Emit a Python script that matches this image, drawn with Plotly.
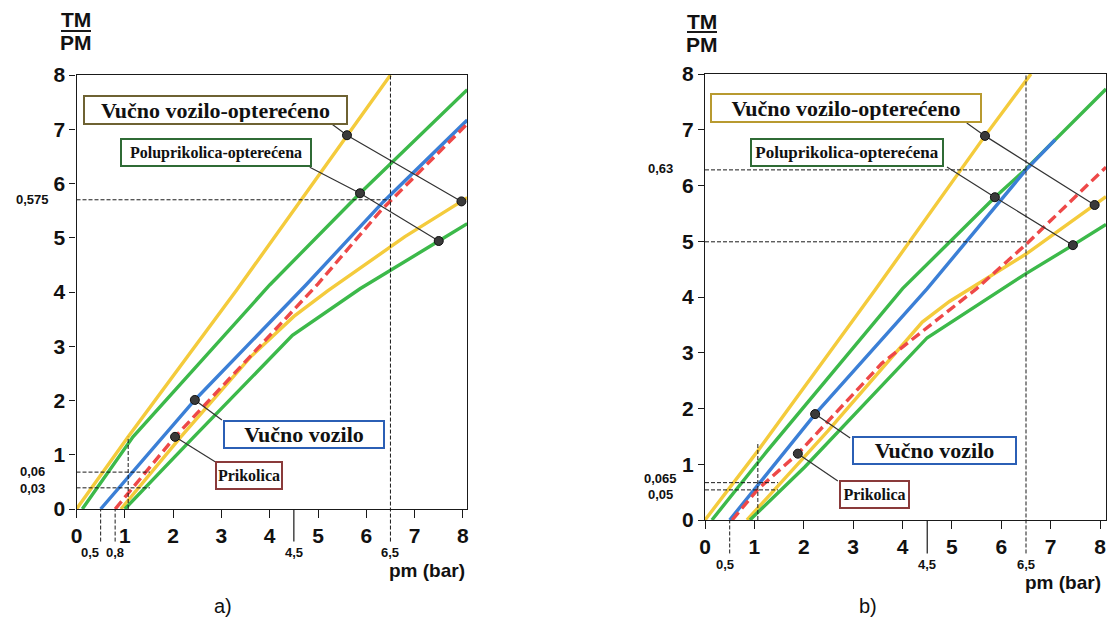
import plotly.graph_objects as go

# ---------------- data: panel a) ----------------
a_yellow_up_x = [0, 1.07, 3.32, 5.6, 6.5]
a_yellow_up_y = [0, 1.33, 4.04, 6.89, 8.0]
a_green_up_x = [0.12, 1.17, 4.0, 5.87, 8.09]
a_green_up_y = [0, 1.33, 4.13, 5.82, 7.73]
a_blue_x = [0.5, 2.45, 4.75, 6.35, 8.09]
a_blue_y = [0, 2.01, 4.13, 5.66, 7.17]
a_red_x = [0.8, 2.04, 5.0, 6.3, 8.09]
a_red_y = [0, 1.33, 4.15, 5.5, 7.1]
a_yellow_lo_x = [0.92, 2.16, 3.6, 4.5, 5.2, 6.8, 7.97, 8.09]
a_yellow_lo_y = [0, 1.33, 2.8, 3.55, 4.02, 5.02, 5.67, 5.74]
a_green_lo_x = [1.0, 2.43, 4.47, 5.87, 7.5, 8.09]
a_green_lo_y = [0, 1.33, 3.2, 4.06, 4.94, 5.26]

a_ref_h = [5.7, 0.68, 0.39]          # horizontal reference levels
a_ref_h_end = [6.5, 1.52, 1.52]
a_ref_h_labels = ["0,575", "0,06", "0,03"]
a_ref_h_label_y = [5.7, 0.69, 0.37]
a_ref_v_short = (1.07, 1.33)
a_mark_x = [0.5, 0.8, 4.5, 6.5]
a_mark_labels = ["0,5", "0,8", "4,5", "6,5"]
a_mark_label_x = [0.28, 0.8, 4.5, 6.5]

# leader lines (box corner -> point -> point)
a_vvo_lead_x = [5.25, 5.6, 7.97]
a_vvo_lead_y = [7.12, 6.89, 5.67]
a_po_lead_x = [4.83, 5.87, 7.5]
a_po_lead_y = [6.3, 5.82, 4.94]
a_vv_lead_x = [2.45, 3.01]
a_vv_lead_y = [2.01, 1.64]
a_pr_lead_x = [2.04, 2.87]
a_pr_lead_y = [1.33, 0.87]

# ---------------- data: panel b) ----------------
b_yellow_up_x = [0, 1.07, 3.44, 5.67, 6.6]
b_yellow_up_y = [0, 1.24, 4.12, 6.89, 8.0]
b_green_up_x = [0.14, 1.26, 4.0, 5.87, 6.48, 8.12]
b_green_up_y = [0, 1.24, 4.15, 5.79, 6.28, 7.73]
b_blue_x = [0.5, 2.23, 4.5, 6.5, 7.09]
b_blue_y = [0, 1.9, 4.15, 6.28, 6.82]
b_red_x = [0.55, 1.07, 1.88, 3.58, 5.5, 6.52, 8.12]
b_red_y = [0, 0.55, 1.19, 2.81, 4.15, 4.96, 6.33]
b_yellow_lo_x = [0.85, 2.49, 4.4, 4.95, 6.5, 7.89, 8.12]
b_yellow_lo_y = [0, 1.6, 3.55, 3.92, 4.77, 5.65, 5.8]
b_green_lo_x = [0.91, 2.02, 4.5, 6.5, 7.45, 8.12]
b_green_lo_y = [0, 0.95, 3.27, 4.42, 4.93, 5.3]

b_ref_h = [6.28, 4.99, 0.67, 0.54]
b_ref_h_end = [6.5, 6.5, 1.48, 1.48]
b_ref_h_labels = ["0,63", "0,065", "0,05"]
b_ref_h_label_y = [6.3, 0.74, 0.46]
b_ref_v_short = (1.07, 1.4)
b_mark_x = [0.5, 4.5, 6.5]
b_mark_labels = ["0,5", "4,5", "6,5"]
b_mark_label_x = [0.4, 4.5, 6.5]

b_vvo_lead_x = [5.3, 5.67, 7.89]
b_vvo_lead_y = [7.12, 6.89, 5.65]
b_po_lead_x = [4.9, 5.87, 7.45]
b_po_lead_y = [6.33, 5.79, 4.93]
b_vv_lead_x = [2.23, 2.94]
b_vv_lead_y = [1.9, 1.47]
b_pr_lead_x = [1.88, 2.69]
b_pr_lead_y = [1.19, 0.7]

x_ticks = [0, 1, 2, 3, 4, 5, 6, 7, 8]
y_ticks = [0, 1, 2, 3, 4, 5, 6, 7, 8]

YELLOW = "#f4cb3c"
GREEN = "#3cb94a"
BLUE = "#3b7fd6"
RED = "#ee4848"
INK = "#1a1a1a"

SANS = "Liberation Sans, Arial, sans-serif"
NARROW = "Liberation Sans Narrow, Liberation Sans, Arial, sans-serif"
SERIF = "Liberation Serif, Times New Roman, serif"

XR = {"x": (0, 8.085), "x2": (0, 8.12)}
YMAX = 8.0
YR = {"y": (0, YMAX), "y2": (0, YMAX)}

fig = go.Figure()


def add_line(x, y, color, xa, ya, dash=None, width=3.4):
    fig.add_trace(go.Scatter(x=x, y=y, mode="lines",
                             line=dict(color=color, width=width, dash=dash),
                             xaxis=xa, yaxis=ya, showlegend=False, hoverinfo="skip"))


def add_leader(x, y, xa, ya, dots):
    fig.add_trace(go.Scatter(x=x, y=y, mode="lines",
                             line=dict(color="#333333", width=1.2),
                             xaxis=xa, yaxis=ya, showlegend=False, hoverinfo="skip"))
    fig.add_trace(go.Scatter(x=[x[i] for i in dots], y=[y[i] for i in dots], mode="markers",
                             marker=dict(color="#3a3a3a", size=9, line=dict(color="#111", width=1)),
                             xaxis=xa, yaxis=ya, showlegend=False, hoverinfo="skip"))


for xa, ya, d in [("x", "y", dict(yu=(a_yellow_up_x, a_yellow_up_y), gu=(a_green_up_x, a_green_up_y),
                                  yl=(a_yellow_lo_x, a_yellow_lo_y), gl=(a_green_lo_x, a_green_lo_y),
                                  b=(a_blue_x, a_blue_y), r=(a_red_x, a_red_y))),
                  ("x2", "y2", dict(yu=(b_yellow_up_x, b_yellow_up_y), gu=(b_green_up_x, b_green_up_y),
                                    yl=(b_yellow_lo_x, b_yellow_lo_y), gl=(b_green_lo_x, b_green_lo_y),
                                    b=(b_blue_x, b_blue_y), r=(b_red_x, b_red_y)))]:
    add_line(*d["yu"], YELLOW, xa, ya)
    add_line(*d["yl"], YELLOW, xa, ya)
    add_line(*d["gu"], GREEN, xa, ya)
    add_line(*d["gl"], GREEN, xa, ya)
    add_line(*d["b"], BLUE, xa, ya)
    add_line(*d["r"], RED, xa, ya, dash="10px,5px")

add_leader(a_vvo_lead_x, a_vvo_lead_y, "x", "y", [1, 2])
add_leader(a_po_lead_x, a_po_lead_y, "x", "y", [1, 2])
add_leader(a_vv_lead_x, a_vv_lead_y, "x", "y", [0])
add_leader(a_pr_lead_x, a_pr_lead_y, "x", "y", [0])
add_leader(b_vvo_lead_x, b_vvo_lead_y, "x2", "y2", [1, 2])
add_leader(b_po_lead_x, b_po_lead_y, "x2", "y2", [1, 2])
add_leader(b_vv_lead_x, b_vv_lead_y, "x2", "y2", [0])
add_leader(b_pr_lead_x, b_pr_lead_y, "x2", "y2", [0])

shapes = []
DASH = dict(color=INK, width=1, dash="4px,2px")
BELOW = -0.6  # data units below the axis reached by the marker lines


def ref_shapes(xa, ya, hs, hends, vshort, marks):
    for h, e in zip(hs, hends):
        shapes.append(dict(type="line", xref=xa, yref=ya, x0=0, x1=e, y0=h, y1=h, line=DASH))
    shapes.append(dict(type="line", xref=xa, yref=ya, x0=vshort[0], x1=vshort[0], y0=0, y1=vshort[1], line=DASH))
    for m in marks:
        top = 1 if m == 6.5 else 0
        style = dict(color=INK, width=1.2) if m == 4.5 else DASH
        shapes.append(dict(type="line", xref=xa, yref=ya + " domain", x0=m, x1=m,
                           y0=BELOW / YMAX, y1=top, line=style))


ref_shapes("x", "y", a_ref_h, a_ref_h_end, a_ref_v_short, a_mark_x)
ref_shapes("x2", "y2", b_ref_h, b_ref_h_end, b_ref_v_short, b_mark_x)

# TM / PM fraction bars
shapes.append(dict(type="line", xref="paper", yref="paper", x0=61 / 1110, x1=91 / 1110,
                   y0=1 - 31 / 633, y1=1 - 31 / 633, line=dict(color=INK, width=2)))
shapes.append(dict(type="line", xref="paper", yref="paper", x0=687 / 1110, x1=717 / 1110,
                   y0=1 - 32 / 633, y1=1 - 32 / 633, line=dict(color=INK, width=2)))

ann = []


def box(xa, ya, x, y, text, size, w, h, border):
    ann.append(dict(xref=xa, yref=ya, x=x, y=y, text="<b>" + text + "</b>", showarrow=False,
                    xanchor="center", yanchor="middle",
                    font=dict(family=SERIF, size=size, color="#111"),
                    bgcolor="white", bordercolor=border, borderwidth=2, borderpad=1,
                    width=w - 6, height=h - 6, align="center", valign="middle"))


box("x", "y", 2.88, 7.35, "Vučno vozilo-opterećeno", 22, 265, 30, "#6e6233")
box("x", "y", 2.89, 6.57, "Poluprikolica-opterećena", 16, 192, 29, "#2f6b35")
box("x", "y", 4.71, 1.38, "Vučno vozilo", 22, 162, 29, "#2b5fb5")
box("x", "y", 3.57, 0.61, "Prikolica", 16, 68, 29, "#8a3a3a")
box("x2", "y2", 2.85, 7.39, "Vučno vozilo-opterećeno", 22, 272, 30, "#b89a30")
box("x2", "y2", 2.87, 6.59, "Poluprikolica-opterećena", 17, 194, 29, "#2f6b35")
box("x2", "y2", 4.65, 1.24, "Vučno vozilo", 22, 165, 29, "#2b5fb5")
box("x2", "y2", 3.43, 0.46, "Prikolica", 16, 71, 29, "#8a3a3a")


def txt_paper(x, y, text, size, family=SANS, bold=True):
    ann.append(dict(xref="paper", yref="paper", x=x, y=y, xanchor="center", yanchor="middle",
                    text=("<b>%s</b>" % text) if bold else text, showarrow=False,
                    font=dict(family=family, size=size, color="#111")))


def txt_data(xa, ya, x, y, text, size, family=NARROW, bold=True):
    # position given in data units, placed through the axis domain so it may sit outside the range
    x0, x1 = XR[xa]
    y0, y1 = YR[ya]
    ann.append(dict(xref=xa + " domain", yref=ya + " domain",
                    x=(x - x0) / (x1 - x0), y=(y - y0) / (y1 - y0),
                    xanchor="center", yanchor="middle",
                    text=("<b>%s</b>" % text) if bold else text, showarrow=False,
                    font=dict(family=family, size=size, color="#111")))


for lab, yy in zip(a_ref_h_labels, a_ref_h_label_y):
    txt_data("x", "y", -0.92, yy, lab, 13)
for lab, yy in zip(b_ref_h_labels, b_ref_h_label_y):
    txt_data("x2", "y2", -0.9, yy, lab, 13)
for lx, lab in zip(a_mark_label_x, a_mark_labels):
    txt_data("x", "y", lx, -0.8, lab, 13)
for lx, lab in zip(b_mark_label_x, b_mark_labels):
    txt_data("x2", "y2", lx, -0.8, lab, 13)
txt_data("x", "y", 7.26, -1.14, "pm (bar)", 19, family=SANS)
txt_data("x2", "y2", 7.25, -1.12, "pm (bar)", 19, family=SANS)

# axis titles TM / PM
txt_paper(76 / 1110, 1 - 20 / 633, "TM", 21)
txt_paper(76 / 1110, 1 - 43 / 633, "PM", 21)
txt_paper(702 / 1110, 1 - 21 / 633, "TM", 21)
txt_paper(702 / 1110, 1 - 44 / 633, "PM", 21)

# panel captions
txt_paper(223 / 1110, 1 - 606 / 633, "a)", 20, bold=False)
txt_paper(868 / 1110, 1 - 606 / 633, "b)", 20, bold=False)

tickfont = dict(family=SANS, size=21, color="#111", weight="bold")
common_x = dict(tickvals=x_ticks, ticktext=[str(v) for v in x_ticks], ticks="outside", ticklen=8,
                tickwidth=1.3, tickcolor=INK, showline=True, linecolor=INK, linewidth=1.3,
                mirror=True, showgrid=False, zeroline=False, tickfont=tickfont, automargin=False,
                ticklabeloverflow="allow")
common_y = dict(tickvals=y_ticks, ticktext=[str(v) for v in y_ticks], ticks="outside", ticklen=6,
                tickwidth=1.3, tickcolor=INK, showline=True, linecolor=INK, linewidth=1.3,
                mirror=True, showgrid=False, zeroline=False, tickfont=tickfont, automargin=False,
                range=[0, YMAX])

fig.update_layout(
    width=1110, height=633,
    margin=dict(l=0, r=0, t=0, b=0),
    paper_bgcolor="white", plot_bgcolor="white",
    showlegend=False,
    xaxis=dict(domain=[76.5 / 1110, 467 / 1110], range=list(XR["x"]), anchor="y", **common_x),
    yaxis=dict(domain=[1 - 509 / 633, 1 - 75 / 633], anchor="x", **common_y),
    xaxis2=dict(domain=[705 / 1110, 1106 / 1110], range=list(XR["x2"]), anchor="y2", **common_x),
    yaxis2=dict(domain=[1 - 520 / 633, 1 - 74 / 633], anchor="x2", **common_y),
    shapes=shapes,
    annotations=ann,
)

fig.write_html("out.html", config={"displayModeBar": False},
               post_script="document.body.style.margin='0px';document.body.style.overflow='hidden';")
